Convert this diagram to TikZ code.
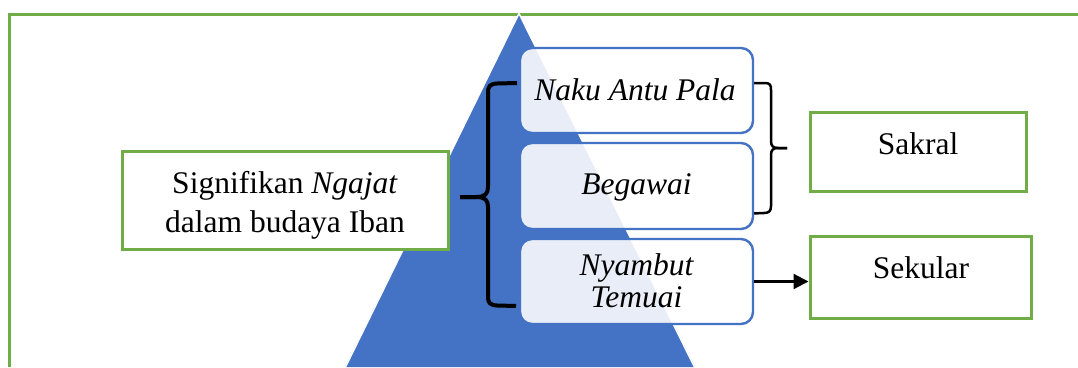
\documentclass[tikz,border=0pt]{standalone}
\usepackage{fontspec}
\setmainfont{Liberation Serif}
\usetikzlibrary{arrows.meta}
\definecolor{grn}{HTML}{70AD47}
\definecolor{blu}{HTML}{4472C4}
\begin{document}
\begin{tikzpicture}[x=1pt,y=-1pt,
  txt/.style={inner sep=0pt, font=\fontsize{31.5}{37}\selectfont, text=black},
  greenbox/.style={draw=grn, line width=3pt, fill=white, inner sep=0pt},
  bluebox/.style={draw=blu, line width=2.4pt, fill=white, fill opacity=0.88, text opacity=1,
    rounded corners=12pt, minimum width=233pt, inner sep=0pt},
  bracel/.style={draw=black, line width=4pt, line join=round},
  bracer/.style={draw=black, line width=2.5pt, line join=round}]
\useasboundingbox (0,0) rectangle (1078,367);
\fill[white] (0,0) rectangle (1078,367);
% frame
\draw[grn, line width=3.3pt] (9.5,367) -- (9.5,14.3) -- (1078,14.3);
% triangle
\fill[blu] (519,14) -- (695,367) -- (345,367) -- cycle;
\draw[white, line width=1.5pt] (695,368) -- (519,13.5) -- (345,368);
% left brace
\path[bracel] (517,83) -- (497,83.5) .. controls (490,84) and (488,86) .. (488,93) -- (488,187) .. controls (488,194) and (485,197) .. (476,197) -- (460,197);
\path[bracel] (460,197) -- (476,197) .. controls (485,197) and (488,200) .. (488,207) -- (488,297) .. controls (488,303) and (490,305) .. (497,305.5) -- (516,306);
% right brace
\path[bracer] (753,83) -- (765,83) .. controls (770,83) and (771,85) .. (771,90) -- (771,141) .. controls (771,146) and (773,148) .. (778,148) -- (787,148);
\path[bracer] (787,148) -- (778,148) .. controls (773,148) and (771,150) .. (771,155) -- (771,206) .. controls (771,211) and (769,213) .. (764,213) -- (753,213.5);
% blue boxes
\node[bluebox, minimum height=85pt] (n1) at (636.5,90.5) {};
\node[bluebox, minimum height=86pt] (n2) at (636.5,186) {};
\node[bluebox, minimum height=85pt] (n3) at (636.5,281.5) {};
\node[txt, anchor=base] (t1) at (635,100) {\itshape Naku Antu Pala};
\node[txt, anchor=base] (t2) at (636.5,194) {\itshape Begawai};
\node[txt, align=center, font=\fontsize{31.5}{32}\selectfont] (t3) at (636.5,280.5) {\itshape Nyambut\\\itshape Temuai};
% green boxes
\node[greenbox, minimum width=326pt, minimum height=98pt] (sig) at (285,200) {};
\node[txt, align=center, font=\fontsize{31.5}{39}\selectfont] (sigt) at (285,205.3) {Signifikan \textit{Ngajat}\\dalam budaya Iban};
\node[greenbox, minimum width=216pt, minimum height=79pt] (sak) at (918,151.5) {};
\node[txt, anchor=base] (sakt) at (918,154) {Sakral};
\node[greenbox, minimum width=221pt, minimum height=82pt] (sek) at (920.5,277) {};
\node[txt, anchor=base] (sekt) at (921,278) {Sekular};
% arrow
\draw[line width=2.2pt, -{Triangle[length=15pt,width=15pt]}] (n3.east) -- (sek.west |- n3.east);
\end{tikzpicture}
\end{document}
